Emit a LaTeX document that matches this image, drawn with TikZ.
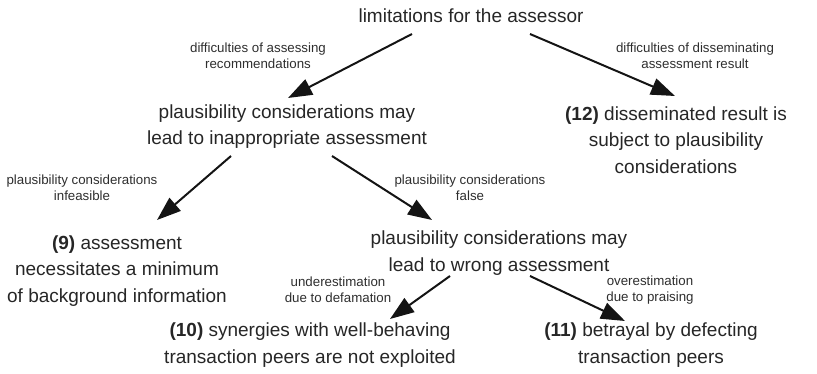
\documentclass[tikz,border=0pt]{standalone}
\usepackage{fontspec}
\setmainfont{Liberation Sans}
\usetikzlibrary{arrows.meta}
\begin{document}
\begin{tikzpicture}[x=1pt,y=-1pt,
  mainnode/.style={inner sep=0pt,align=center,text=black!85,font=\fontsize{19}{26.5}\selectfont},
  lbl/.style={inner sep=0pt,align=center,text=black!82,font=\fontsize{13.3}{16}\selectfont},
  arr/.style={line width=2pt,black!92,-{Triangle[length=24pt,width=17pt]}}]
\useasboundingbox (0,0) rectangle (817,374);
\node[mainnode] (top) at (471,16) {limitations for the assessor};
\node[mainnode] (A) at (287,126.5) {plausibility considerations may\\lead to inappropriate assessment};
\node[mainnode] (B) at (676,140) {\textbf{(12)} disseminated result is\\subject to plausibility\\considerations};
\node[mainnode] (N9) at (117,271) {\textbf{(9)} assessment\\necessitates a minimum\\of background information};
\node[mainnode] (C) at (499,253) {plausibility considerations may\\lead to wrong assessment};
\node[mainnode] (N10) at (310,345) {\textbf{(10)} synergies with well-behaving\\transaction peers are not exploited};
\node[mainnode] (N11) at (651,345) {\textbf{(11)} betrayal by defecting\\transaction peers};

\node[lbl] (l1) at (258,56) {difficulties of assessing\\recommendations};
\node[lbl] (l2) at (695,56) {difficulties of disseminating\\assessment result};
\node[lbl] (l3) at (82,188) {plausibility considerations\\infeasible};
\node[lbl] (l4) at (470,188) {plausibility considerations\\false};
\node[lbl] (l5) at (338,290) {underestimation\\due to defamation};
\node[lbl] (l6) at (650,290) {overestimation\\due to praising};

\draw[arr] ([shift={(-59,18)}]top.center) -- ([shift={(1,-28.5)}]A.center);
\draw[arr] ([shift={(59,18)}]top.center) -- ([shift={(-1,-44)}]B.center);
\draw[arr] ([shift={(-56,29.5)}]A.center) -- ([shift={(40,-51)}]N9.center);
\draw[arr] ([shift={(45,29.5)}]A.center) -- ([shift={(-67,-33)}]C.center);
\draw[arr] ([shift={(-49,23)}]C.center) -- ([shift={(80,-26)}]N10.center);
\draw[arr] ([shift={(31,23)}]C.center) -- ([shift={(-26,-24)}]N11.center);
\end{tikzpicture}
\end{document}
